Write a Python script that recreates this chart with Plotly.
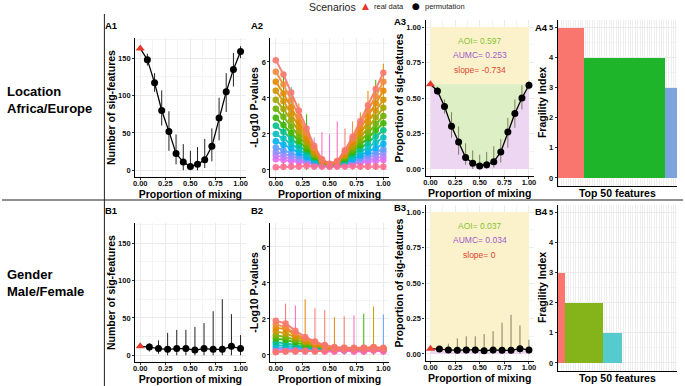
import plotly.graph_objects as go

W, H = 685, 386
FONT = "Liberation Sans"


def fx(p):
    return p / W


def fy(p):
    return 1 - p / H


# ---------------- data ----------------
a_mix = [0.071, 0.143, 0.214, 0.286, 0.357, 0.429, 0.5, 0.571, 0.643, 0.714, 0.786, 0.857, 0.929, 1.0]
b_mix = [0.091, 0.182, 0.273, 0.364, 0.455, 0.545, 0.636, 0.727, 0.818, 0.909, 1.0]

a1_real = 163
a1_perm = [148, 117, 80, 52, 22.5, 11, 5, 8, 14, 32, 70, 105, 135, 159]
a1_lo = [140, 105, 60, 26, 8, 0, 0, 0, 3, 12, 40, 78, 112, 150]
a1_hi = [156, 130, 107, 79, 48, 35, 26, 31, 42, 56, 97, 130, 157, 166]

a3_real = 0.597
a3_perm = [0.55, 0.44, 0.30, 0.19, 0.08, 0.04, 0.02, 0.03, 0.05, 0.12, 0.26, 0.39, 0.50, 0.59]
a3_lo = [0.52, 0.39, 0.22, 0.10, 0.03, 0.0, 0.0, 0.0, 0.01, 0.045, 0.15, 0.29, 0.42, 0.56]
a3_hi = [0.58, 0.49, 0.40, 0.30, 0.18, 0.13, 0.10, 0.12, 0.16, 0.21, 0.36, 0.49, 0.59, 0.62]
a3_stats = ["AOI= 0.597", "AUMC= 0.253", "slope= -0.734"]

b1_real = 12
b1_perm = [11, 9, 8, 9, 9, 7, 9, 8, 8, 12, 9]
b1_lo = [5, 2, 0, 0, 0, 0, 0, 0, 0, 0, 0]
b1_hi = [16, 20, 30, 34, 34, 38, 43, 59, 75, 55, 27]

b3_real = 0.037
b3_perm = [0.034, 0.028, 0.025, 0.028, 0.028, 0.022, 0.028, 0.025, 0.025, 0.037, 0.028]
b3_lo = [0.02, 0.005, 0, 0, 0, 0, 0, 0, 0, 0, 0]
b3_hi = [0.05, 0.072, 0.11, 0.124, 0.124, 0.14, 0.16, 0.22, 0.276, 0.2, 0.1]
b3_stats = ["AOI= 0.037", "AUMC= 0.034", "slope= 0"]

# A2: -log10 p-values per feature (x = 0 then a_mix), in drawing order
a2_colors = ["#E76BF3", "#C77CFF", "#9590FF", "#619CFF", "#00B0F6", "#00BFC4", "#00C08B",
             "#39B600", "#6BB100", "#A3A500", "#D39200", "#E58700", "#F08A3A", "#F8766D", "#FF6C91"]
a2_curves = [
    [0.6, 0.55, 0.5, 0.45, 0.4, 0.3, 0.25, 0.25, 0.25, 0.3, 0.35, 0.4, 0.45, 0.5, 0.55],
    [0.8, 0.72, 0.62, 0.52, 0.45, 0.35, 0.28, 0.25, 0.27, 0.32, 0.4, 0.48, 0.56, 0.65, 0.75],
    [1.0, 0.9, 0.78, 0.65, 0.52, 0.4, 0.3, 0.25, 0.28, 0.35, 0.45, 0.58, 0.7, 0.82, 0.95],
    [1.25, 1.1, 0.95, 0.78, 0.62, 0.45, 0.32, 0.25, 0.3, 0.38, 0.52, 0.68, 0.85, 1.0, 1.15],
    [1.6, 1.4, 1.2, 0.95, 0.72, 0.5, 0.33, 0.26, 0.3, 0.42, 0.6, 0.8, 1.0, 1.22, 1.45],
    [2.0, 1.75, 1.45, 1.15, 0.85, 0.58, 0.35, 0.26, 0.32, 0.48, 0.72, 0.98, 1.25, 1.52, 1.8],
    [2.45, 2.12, 1.75, 1.38, 1.0, 0.66, 0.38, 0.27, 0.34, 0.55, 0.85, 1.18, 1.52, 1.86, 2.2],
    [2.9, 2.5, 2.05, 1.62, 1.15, 0.74, 0.4, 0.28, 0.36, 0.62, 0.98, 1.38, 1.78, 2.2, 2.6],
    [3.4, 2.95, 2.42, 1.88, 1.32, 0.82, 0.42, 0.28, 0.38, 0.7, 1.12, 1.6, 2.08, 2.55, 3.0],
    [3.9, 3.38, 2.78, 2.15, 1.5, 0.9, 0.45, 0.3, 0.4, 0.78, 1.26, 1.82, 2.38, 2.92, 3.45],
    [4.4, 3.82, 3.12, 2.4, 1.68, 1.0, 0.48, 0.3, 0.42, 0.86, 1.42, 2.05, 2.68, 3.3, 3.9],
    [4.9, 4.25, 3.48, 2.68, 1.86, 1.1, 0.52, 0.32, 0.44, 0.94, 1.58, 2.3, 3.0, 3.7, 4.4],
    [5.45, 4.75, 3.88, 2.98, 2.06, 1.22, 0.56, 0.33, 0.47, 1.02, 1.72, 2.52, 3.3, 4.1, 4.9],
    [6.1, 5.3, 4.3, 3.3, 2.3, 1.35, 0.6, 0.35, 0.5, 1.1, 1.85, 2.7, 3.6, 4.5, 5.4],
    [0.15, 0.18, 0.2, 0.2, 0.22, 0.2, 0.2, 0.18, 0.2, 0.2, 0.22, 0.2, 0.2, 0.2, 0.18],
]
a2_wtop = [5.4, 4.6, 3.7, 3.1, 1.8, 2.1, 2.0, 2.7, 2.3, 2.7, 3.2, 4.4, 5.0, 5.9]
a2_wcol = ["#39B600", "#00BFC4", "#E58700", "#39B600", "#C77CFF", "#FF62BC", "#E76BF3",
           "#FF62BC", "#F8766D", "#F08A3A", "#E58700", "#E58700", "#39B600", "#E58700"]

# B2: -log10 p-values per feature (x = 0 then b_mix), in drawing order
b2_colors = ["#C77CFF", "#619CFF", "#00BFC4", "#00C08B", "#39B600", "#7CAE00", "#C99800",
             "#E58700", "#F08A3A", "#F8766D", "#FF62BC", "#F8766D"]
b2_curves = [
    [0.3, 0.3, 0.3, 0.3, 0.25, 0.25, 0.25, 0.25, 0.25, 0.25, 0.25, 0.25],
    [0.4, 0.4, 0.35, 0.35, 0.3, 0.3, 0.3, 0.25, 0.3, 0.25, 0.3, 0.3],
    [0.55, 0.5, 0.45, 0.4, 0.35, 0.3, 0.3, 0.3, 0.3, 0.3, 0.3, 0.3],
    [0.7, 0.65, 0.55, 0.45, 0.4, 0.35, 0.3, 0.3, 0.3, 0.3, 0.35, 0.3],
    [0.9, 0.85, 0.7, 0.55, 0.45, 0.4, 0.35, 0.3, 0.3, 0.35, 0.4, 0.3],
    [1.1, 1.0, 0.85, 0.65, 0.5, 0.4, 0.35, 0.35, 0.3, 0.35, 0.35, 0.35],
    [1.3, 1.2, 1.0, 0.75, 0.55, 0.45, 0.35, 0.35, 0.35, 0.35, 0.4, 0.35],
    [1.5, 1.45, 1.1, 0.85, 0.6, 0.45, 0.4, 0.35, 0.35, 0.35, 0.4, 0.35],
    [1.7, 1.55, 1.2, 0.9, 0.7, 0.5, 0.4, 0.4, 0.35, 0.4, 0.4, 0.35],
    [1.9, 1.75, 1.35, 1.0, 0.75, 0.55, 0.45, 0.4, 0.4, 0.4, 0.45, 0.4],
    [0.2, 0.22, 0.25, 0.2, 0.25, 0.2, 0.2, 0.25, 0.2, 0.2, 0.25, 0.2],
    [0.15, 0.2, 0.2, 0.25, 0.2, 0.25, 0.3, 0.3, 0.3, 0.3, 0.3, 0.3],
]
b2_wtop = [2.85, 2.75, 3.1, 2.6, 2.5, 2.1, 2.15, 2.2, 2.3, 2.7, 2.25]
b2_wcol = ["#F8766D", "#FF62BC", "#E58700", "#F8766D", "#F8766D", "#E58700", "#F8766D",
           "#FF62BC", "#39B600", "#C99800", "#619CFF"]

# A4/B4: fragility index of top 50 features
a4_levels = [5, 4, 3]
a4_counts = [11, 34, 5]
a4_colors = ["#F8766D", "#1FB52A", "#7DA3DC"]
b4_levels = [3, 2, 1, 0]
b4_counts = [3, 16, 8, 23]
b4_colors = ["#F8766D", "#84B31A", "#55CBCE", "#C77CFF"]

legend_title = "Scenarios"
legend_names = ["real data", "permutation"]
row_labels = ["Location<br>Africa/Europe", "Gender<br>Male/Female"]

RED = "#E8382B"

fig = go.Figure()


def perm_panel(xa, ya, real, perm, lo, hi, xs, whisk_col):
    x_all = [0] + xs
    fig.add_trace(go.Scatter(
        x=x_all, y=[real] + perm, mode="lines", line=dict(color="black", width=1.3),
        xaxis=xa, yaxis=ya, showlegend=False, hoverinfo="skip"))
    fig.add_trace(go.Scatter(
        x=xs, y=perm, mode="markers",
        marker=dict(color="black", size=7),
        error_y=dict(type="data", symmetric=False,
                     array=[h - v for h, v in zip(hi, perm)],
                     arrayminus=[v - l for v, l in zip(perm, lo)],
                     color=whisk_col, thickness=1, width=0),
        xaxis=xa, yaxis=ya, showlegend=False))
    fig.add_trace(go.Scatter(
        x=[0], y=[real], mode="markers",
        marker=dict(color=RED, size=8, symbol="triangle-up"),
        xaxis=xa, yaxis=ya, showlegend=False))


def area_panel(xa, ya, real, perm, lo, hi, xs, stats):
    x_all = [0] + xs
    y_all = [real] + perm
    fig.add_trace(go.Scatter(x=x_all, y=y_all, mode="lines", line=dict(width=0),
                             fill="tozeroy", fillcolor="#EDD6F1",
                             xaxis=xa, yaxis=ya, showlegend=False, hoverinfo="skip"))
    fig.add_trace(go.Scatter(x=[0, 1], y=[real, real], mode="lines", line=dict(width=0),
                             xaxis=xa, yaxis=ya, showlegend=False, hoverinfo="skip"))
    fig.add_trace(go.Scatter(x=x_all, y=y_all, mode="lines", line=dict(width=0),
                             fill="tonexty", fillcolor="#DDF0C5",
                             xaxis=xa, yaxis=ya, showlegend=False, hoverinfo="skip"))
    perm_panel(xa, ya, real, perm, lo, hi, xs, "rgba(95,90,60,0.75)")
    cols = ["#86C22E", "#A05CC8", "#E0442E"]
    for txt, col, yy in zip(stats, cols, [0.9, 0.8, 0.7]):
        fig.add_annotation(x=0.5, y=yy, xref=xa, yref=ya, text=txt, showarrow=False,
                           font=dict(family=FONT, size=8.5, color=col))


def pval_panel(xa, ya, curves, colors, xs, wtop, wcol):
    x_all = [0] + xs
    for x, t, c in zip(xs, wtop, wcol):
        fig.add_trace(go.Scatter(
            x=[x], y=[0], mode="markers", marker=dict(size=1, opacity=0),
            error_y=dict(type="data", symmetric=False, array=[t], arrayminus=[0],
                         color=c, thickness=1, width=0),
            xaxis=xa, yaxis=ya, showlegend=False, hoverinfo="skip"))
    for vals, col in zip(curves, colors):
        fig.add_trace(go.Scatter(
            x=x_all, y=vals, mode="lines+markers",
            line=dict(color=col, width=2), marker=dict(color=col, size=6.5),
            opacity=0.9, xaxis=xa, yaxis=ya, showlegend=False, hoverinfo="skip"))


def frag_panel(xa, ya, levels, counts, colors):
    start = 1
    for lev, cnt, col in zip(levels, counts, colors):
        feats = list(range(start, start + cnt))
        fig.add_trace(go.Bar(x=feats, y=[lev] * cnt, width=1, marker=dict(color=col, line=dict(width=0)),
                             xaxis=xa, yaxis=ya, showlegend=False))
        start += cnt


perm_panel("x", "y", a1_real, a1_perm, a1_lo, a1_hi, a_mix, "#222222")
pval_panel("x2", "y2", a2_curves, a2_colors, a_mix, a2_wtop, a2_wcol)
area_panel("x3", "y3", a3_real, a3_perm, a3_lo, a3_hi, a_mix, a3_stats)
frag_panel("x4", "y4", a4_levels, a4_counts, a4_colors)
perm_panel("x5", "y5", b1_real, b1_perm, b1_lo, b1_hi, b_mix, "#222222")
pval_panel("x6", "y6", b2_curves, b2_colors, b_mix, b2_wtop, b2_wcol)
area_panel("x7", "y7", b3_real, b3_perm, b3_lo, b3_hi, b_mix, b3_stats)
frag_panel("x8", "y8", b4_levels, b4_counts, b4_colors)

tickfont = dict(family=FONT, size=7.5, color="#111", weight="bold")
titlefont = dict(family=FONT, size=10.5, color="black", weight="bold")


def xax(dom, title, anchor):
    return dict(domain=[fx(dom[0]), fx(dom[1])], range=[-0.05, 1.05], anchor=anchor,
                showline=True, linecolor="black", linewidth=1.2, ticks="outside", ticklen=2,
                tickcolor="#333", tickfont=tickfont, tick0=0, dtick=0.25, tickformat=".2f",
                ticklabelstandoff=-3,
                showgrid=True, gridcolor="#EBEBEB", gridwidth=0.8, zeroline=False,
                minor=dict(tickmode="linear", tick0=0, dtick=0.125, showgrid=True,
                           gridcolor="#F4F4F4", gridwidth=0.5),
                title=dict(text=title, font=titlefont, standoff=0))


def yax(dom, rng, dtick, minor, title, anchor, fmt=None):
    d = dict(domain=[fy(dom[1]), fy(dom[0])], range=rng, anchor=anchor,
             showline=True, linecolor="black", linewidth=1.2, ticks="outside", ticklen=2,
             tickcolor="#333", tickfont=tickfont, tick0=0, dtick=dtick,
             showgrid=True, gridcolor="#EBEBEB", gridwidth=0.8, zeroline=False,
             minor=dict(tickmode="linear", tick0=0, dtick=minor, showgrid=True,
                        gridcolor="#F4F4F4", gridwidth=0.5),
             title=dict(text=title, font=titlefont, standoff=0))
    if fmt:
        d["tickformat"] = fmt
    return d


def fxax(dom, anchor):
    return dict(domain=[fx(dom[0]), fx(dom[1])], range=[0.5, 50.5], anchor=anchor,
                showline=True, linecolor="black", linewidth=1.2, ticks="",
                showticklabels=False, tickmode="linear", tick0=1, dtick=1,
                showgrid=True, gridcolor="#EEEEEE", gridwidth=0.6, zeroline=False,
                title=dict(text="Top 50 features", font=titlefont, standoff=4))


DY = 185
layout = dict(
    width=W, height=H, margin=dict(l=0, r=0, t=0, b=0),
    paper_bgcolor="white", plot_bgcolor="white", bargap=0, showlegend=False,
    font=dict(family=FONT),
    xaxis=xax((134, 245), "Proportion of mixing", "y"),
    yaxis=yax((38, 177), [-9, 177], 50, 25, "Number of sig-features", "x"),
    xaxis2=xax((270, 389), "Proportion of mixing", "y2"),
    yaxis2=yax((38, 177), [-0.39, 7.33], 2, 1, "-Log10 P-values", "x2"),
    xaxis3=xax((426, 535), "Proportion of mixing", "y3"),
    yaxis3=yax((20, 176), [-0.05, 1.05], 0.25, 0.125, "Proportion of sig-features", "x3", ".2f"),
    xaxis4=fxax((559, 679), "y4"),
    yaxis4=yax((19.5, 185.5), [-0.25, 5.25], 1, 0.5, "Fragility Index", "x4"),
    xaxis5=xax((134, 245), "Proportion of mixing", "y5"),
    yaxis5=yax((38 + DY, 177 + DY), [-9, 177], 50, 25, "Number of sig-features", "x5"),
    xaxis6=xax((270, 389), "Proportion of mixing", "y6"),
    yaxis6=yax((38 + DY, 177 + DY), [-0.39, 7.33], 2, 1, "-Log10 P-values", "x6"),
    xaxis7=xax((426, 535), "Proportion of mixing", "y7"),
    yaxis7=yax((20 + DY, 176 + DY), [-0.05, 1.05], 0.25, 0.125, "Proportion of sig-features", "x7", ".2f"),
    xaxis8=fxax((559, 679), "y8"),
    yaxis8=yax((19.5 + DY, 185.5 + DY), [-0.25, 5.25], 1, 0.5, "Fragility Index", "x8"),
)
fig.update_layout(**layout)

# yellow backgrounds in the area panels
for xa, ya in (("x3", "y3"), ("x7", "y7")):
    fig.add_shape(type="rect", xref=xa, yref=ya, x0=0, x1=1, y0=0, y1=1,
                  fillcolor="#FBF2CC", line=dict(width=0), layer="between")

# separators
fig.add_shape(type="line", xref="paper", yref="paper", x0=fx(103), x1=fx(103), y0=fy(14), y1=0,
              line=dict(color="#222", width=1))
fig.add_shape(type="line", xref="paper", yref="paper", x0=0, x1=1, y0=fy(200), y1=fy(200),
              line=dict(color="#222", width=1))

# legend (drawn as text)
fig.add_annotation(x=fx(332), y=fy(7), xref="paper", yref="paper", text=legend_title, showarrow=False,
                   xanchor="center", yanchor="middle", font=dict(family=FONT, size=10.5, color="#222"))
fig.add_annotation(x=fx(366), y=fy(6.5), xref="paper", yref="paper", text="\u25B2", showarrow=False,
                   xanchor="center", yanchor="middle", font=dict(family="DejaVu Sans", size=9, color=RED))
fig.add_annotation(x=fx(372), y=fy(7), xref="paper", yref="paper", text=legend_names[0], showarrow=False,
                   xanchor="left", yanchor="middle", font=dict(family=FONT, size=7.5, color="#222"))
fig.add_annotation(x=fx(416), y=fy(6.5), xref="paper", yref="paper", text="\u25CF", showarrow=False,
                   xanchor="center", yanchor="middle", font=dict(family="DejaVu Sans", size=9, color="black"))
fig.add_annotation(x=fx(423), y=fy(7), xref="paper", yref="paper", text=legend_names[1], showarrow=False,
                   xanchor="left", yanchor="middle", font=dict(family=FONT, size=7.5, color="#222"))

rowfont = dict(family=FONT, size=13, color="black", weight="bold")
for txt, yy in zip(row_labels, (100, 283)):
    fig.add_annotation(x=fx(3), y=fy(yy), xref="paper", yref="paper", text=txt, showarrow=False,
                       xanchor="left", yanchor="middle", align="left", font=rowfont)

labfont = dict(family=FONT, size=9.5, color="black", weight="bold")
for txt, xx, yy in (("A1", 110, 25), ("A2", 257, 25), ("A3", 400, 22), ("A4", 543, 27),
                    ("B1", 110, 210), ("B2", 257, 210), ("B3", 400, 207), ("B4", 543, 212)):
    fig.add_annotation(x=fx(xx), y=fy(yy), xref="paper", yref="paper", text=txt, showarrow=False,
                       xanchor="center", yanchor="middle", font=labfont)

fig.write_html("out.html", config={"displayModeBar": False},
               post_script="document.body.style.margin='0px';")
